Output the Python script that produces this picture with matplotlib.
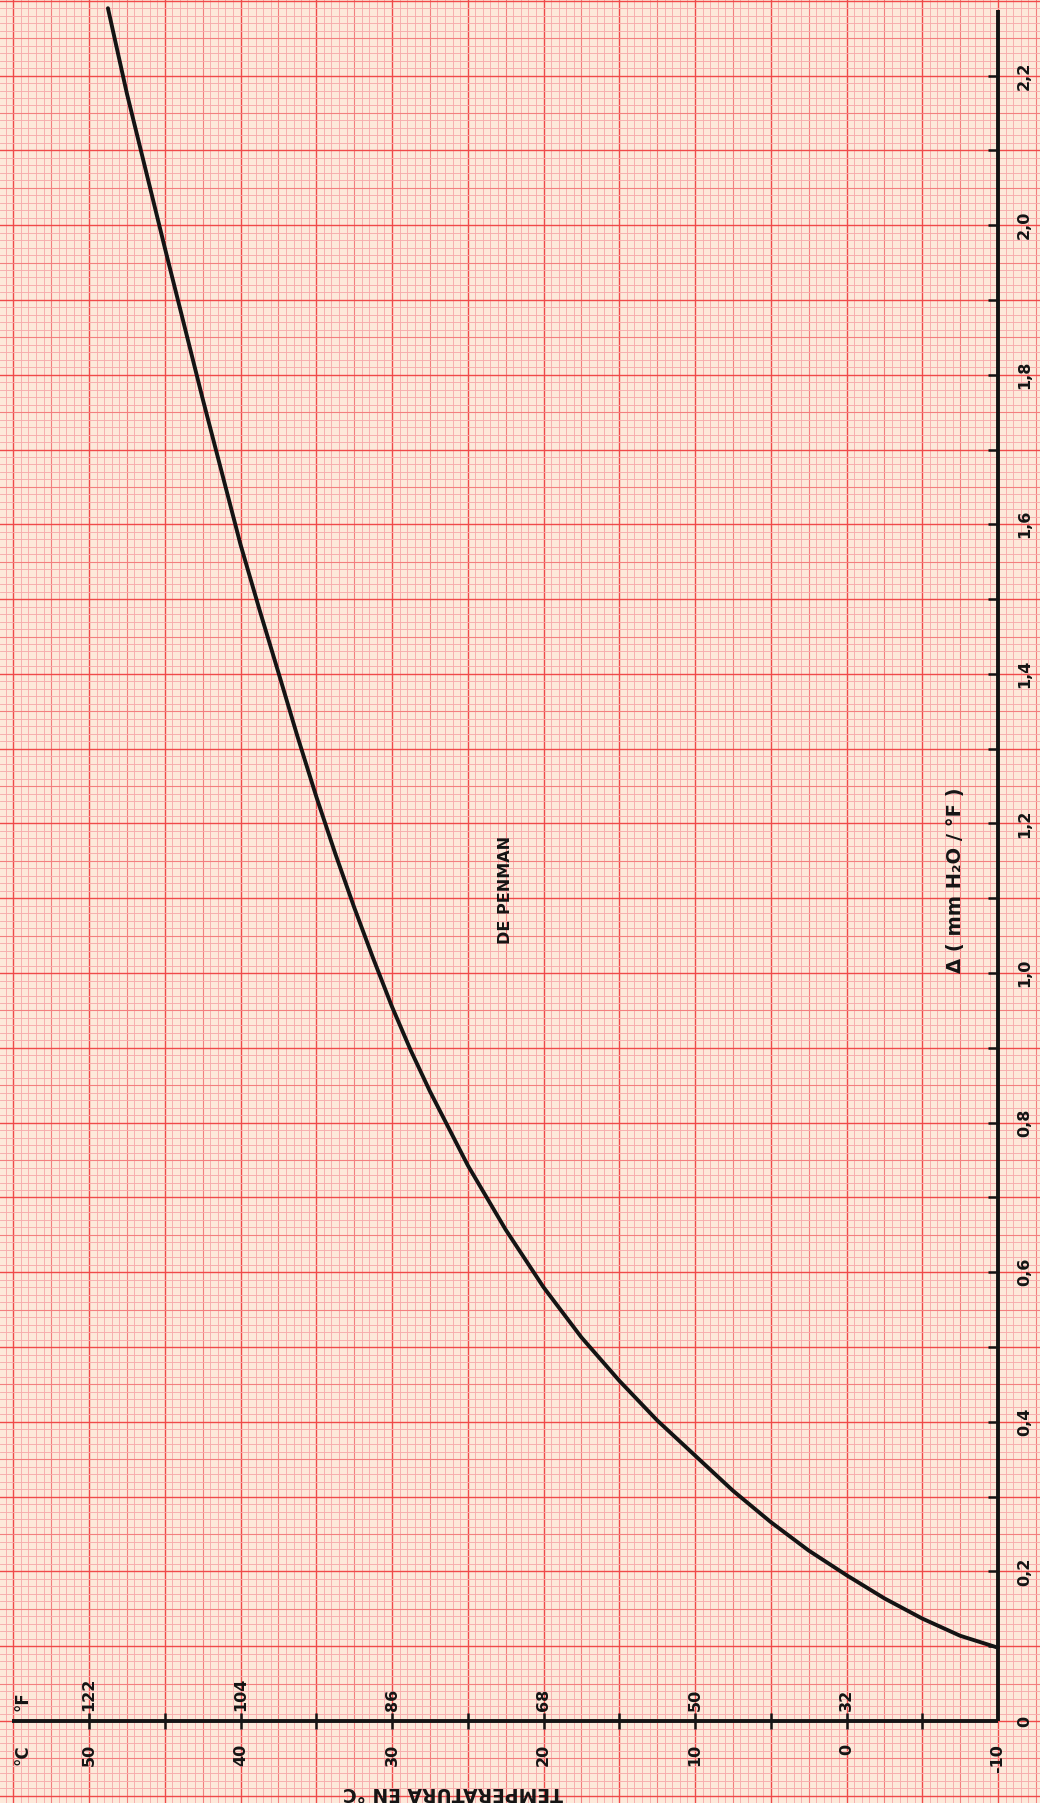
import numpy as np
import matplotlib
matplotlib.use("Agg")
import matplotlib.pyplot as plt

# curva de Penman: temperatura (oC) -> delta (mm / oF)
temp_c = [-10, -7.5, -5, -2.5, 0, 2.5, 5, 7.5, 10, 12.5, 15, 17.5, 20, 22.5,
          25, 27.5, 28.75, 30, 31.25, 32.5, 33.75, 35, 36.25, 37.5, 38.75,
          40, 42.5, 45, 47.5, 48.75]
delta = [0.098, 0.114, 0.137, 0.164, 0.195, 0.228, 0.266, 0.308, 0.355, 0.402,
         0.455, 0.513, 0.580, 0.657, 0.743, 0.842, 0.896, 0.955, 1.020, 1.088,
         1.160, 1.236, 1.317, 1.402, 1.486, 1.573, 1.768, 1.970, 2.176, 2.290]

# escalas
c_ticks = [50, 40, 30, 20, 10, 0, -10]
c_labels = ["50", "40", "30", "20", "10", "0", "-10"]
f_ticks = [50, 40, 30, 20, 10, 0]
f_labels = ["122", "104", "86", "68", "50", "32"]
minor_c = [50, 45, 40, 35, 30, 25, 20, 15, 10, 5, 0, -5]
d_ticks = [0, 0.2, 0.4, 0.6, 0.8, 1.0, 1.2, 1.4, 1.6, 1.8, 2.0, 2.2]
d_labels = ["0", "0,2", "0,4", "0,6", "0,8", "1,0", "1,2", "1,4", "1,6", "1,8", "2,0", "2,2"]
minor_d = [round(0.1 * i, 1) for i in range(1, 23)]

paper = "#fde9da"
ink = "#141414"

fig = plt.figure(figsize=(10.4, 18.03), dpi=100)
fig.patch.set_facecolor(paper)
ax = fig.add_axes([0, 0, 1, 1])
ax.axis("off")
ax.set_xlim(55.875, -12.77)
ax.set_ylim(-0.1096, 2.301)

# papel milimetrado
xs = np.arange(-15, 57.01, 0.5)
ys = np.arange(-0.12, 2.3101, 0.01)
for x in xs:
    k = int(round((x + 15) / 0.5))
    if k % 10 == 0:
        c, lw = "#f04a4a", 1.0
    elif k % 5 == 0:
        c, lw = "#f37f7f", 0.8
    else:
        c, lw = "#f7acac", 0.65
    ax.axvline(x, color=c, lw=lw, zorder=0)
for y in ys:
    k = int(round((y + 0.12) / 0.01))
    if (k - 2) % 10 == 0:
        c, lw = "#f04a4a", 1.0
    elif (k - 2) % 5 == 0:
        c, lw = "#f37f7f", 0.8
    else:
        c, lw = "#f7acac", 0.65
    ax.axhline(y, color=c, lw=lw, zorder=0)

# ejes
ax.plot([55.05, -10], [0, 0], color=ink, lw=2.8, solid_capstyle="butt", zorder=3)
ax.plot([-10, -10], [0, 2.288], color=ink, lw=2.8, solid_capstyle="butt", zorder=3)
ax.plot(minor_c, [0] * len(minor_c), ls="none", marker="|", ms=11.5, mew=1.8,
        color=ink, zorder=3)
ax.plot([-10] * len(minor_d), minor_d, ls="none", marker=0, ms=7.5, mew=1.8,
        color=ink, zorder=3)

# curva
ax.plot(temp_c, delta, color=ink, lw=2.8, solid_capstyle="round",
        solid_joinstyle="round", zorder=4)

fkw = dict(family="DejaVu Sans", weight="bold", color=ink, rotation=90)
for t, s in zip(c_ticks, c_labels):
    ax.text(t, -0.031, s, ha="center", va="top", fontsize=11.5, **fkw)
for t, s in zip(f_ticks, f_labels):
    ax.text(t, 0.014, s, ha="center", va="bottom", fontsize=11.5, **fkw)
ax.text(54.4, -0.031, "°C", ha="center", va="top", fontsize=12, **fkw)
ax.text(54.4, 0.014, "°F", ha="center", va="bottom", fontsize=12, **fkw)
for d, s in zip(d_ticks, d_labels):
    ax.text(-11.75, d, s, ha="center", va="center", fontsize=11.5, **fkw)

ax.text(-7.16, 1.124, "Δ ( mm H₂O / °F )", ha="center", va="center",
        fontsize=14, **fkw)
ax.text(22.5, 1.111, "DE PENMAN", ha="center", va="center", fontsize=11.5, **fkw)
ax.text(26.0, -0.095, "TEMPERATURA EN °C", ha="center", va="center",
        fontsize=13.5, family="DejaVu Sans", weight="bold", color=ink, rotation=180)

fig.savefig("out.png", dpi=100, facecolor=paper)
